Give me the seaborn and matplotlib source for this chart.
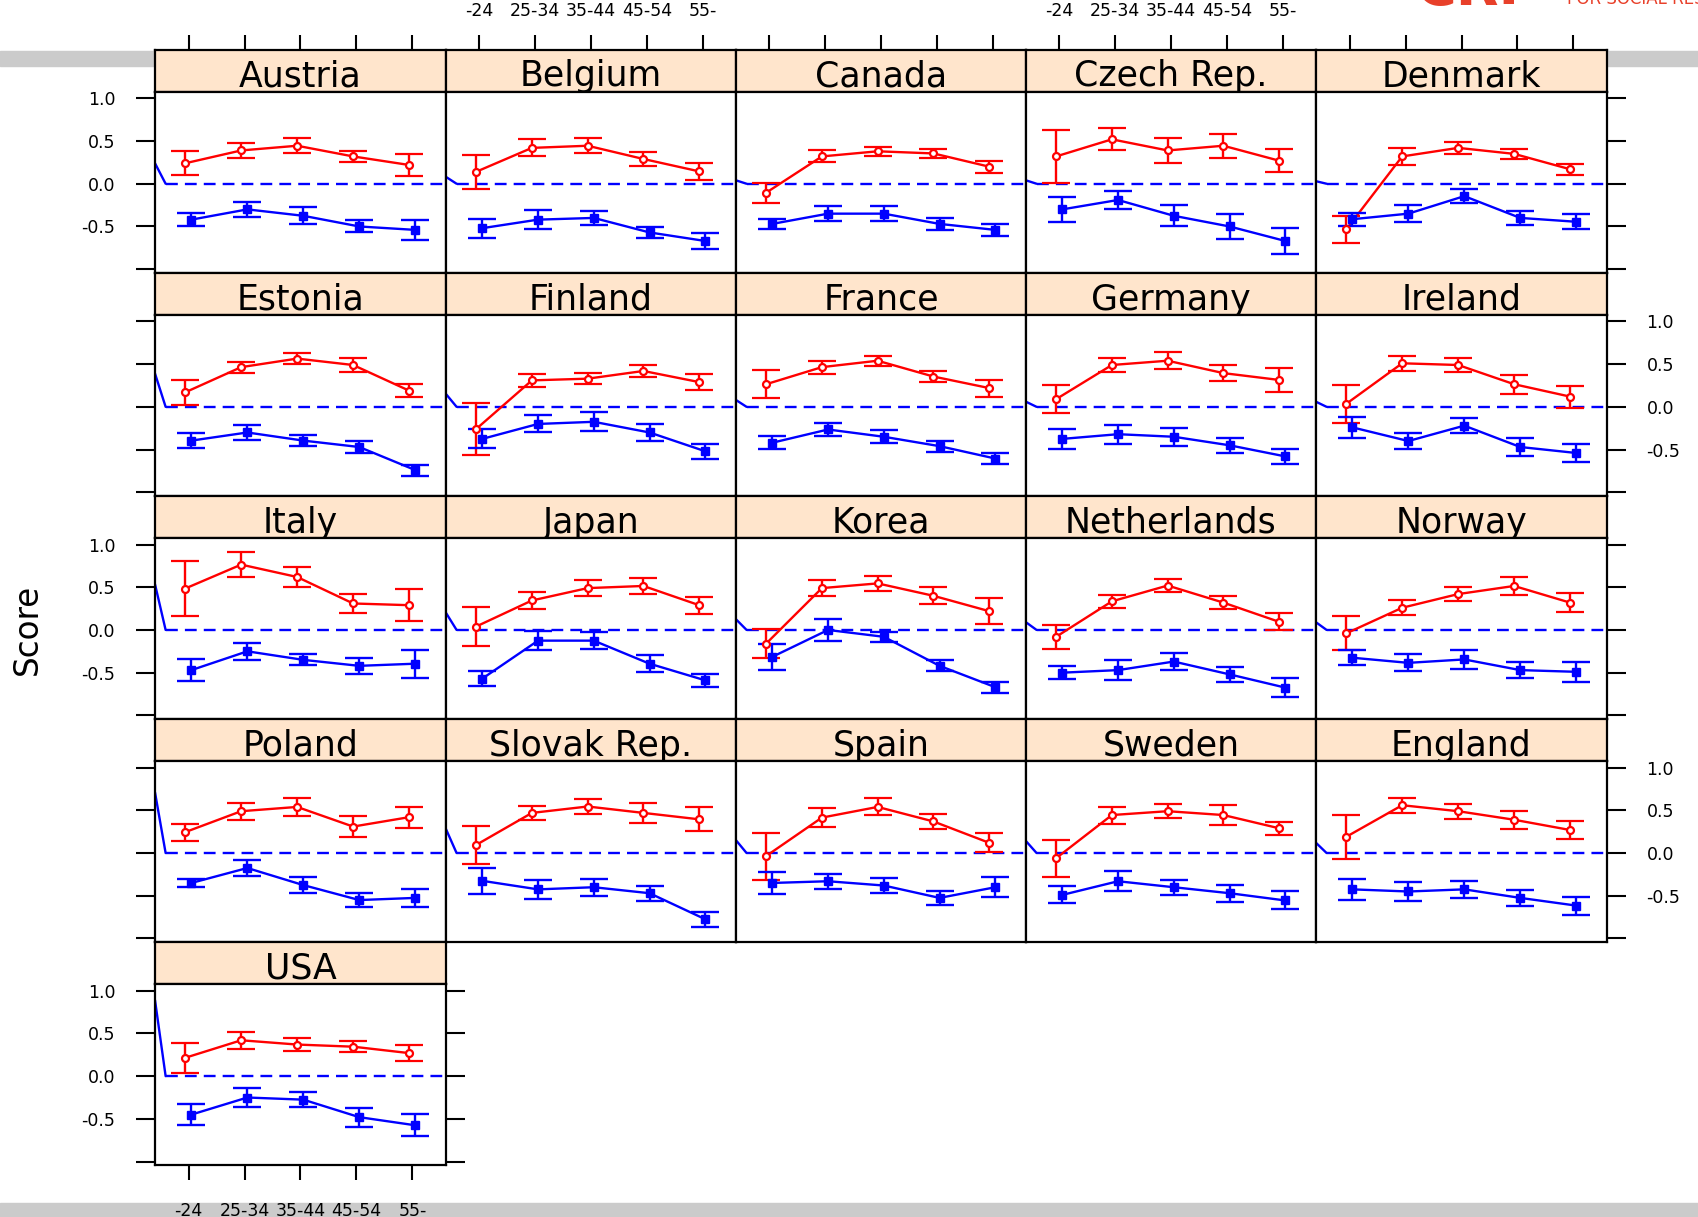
import matplotlib
matplotlib.use('Agg')
import matplotlib.pyplot as plt
import matplotlib.transforms as mtrans
import seaborn as sns
import numpy as np
import pandas as pd
from matplotlib.patches import Rectangle

countries = ['Austria', 'Belgium', 'Canada', 'Czech Rep.', 'Denmark',
             'Estonia', 'Finland', 'France', 'Germany', 'Ireland',
             'Italy', 'Japan', 'Korea', 'Netherlands', 'Norway',
             'Poland', 'Slovak Rep.', 'Spain', 'Sweden', 'England',
             'USA']
age_groups = ['-24', '25-34', '35-44', '45-54', '55-']

# red series (open circles): means and half-widths of the bars
red_mean = [
    [0.24, 0.39, 0.445, 0.32, 0.22],
    [0.14, 0.42, 0.445, 0.29, 0.145],
    [-0.105, 0.32, 0.38, 0.355, 0.20],
    [0.32, 0.52, 0.39, 0.445, 0.27],
    [-0.535, 0.32, 0.42, 0.35, 0.17],
    [0.17, 0.465, 0.565, 0.49, 0.19],
    [-0.26, 0.31, 0.33, 0.42, 0.29],
    [0.265, 0.465, 0.54, 0.355, 0.22],
    [0.09, 0.49, 0.54, 0.395, 0.315],
    [0.035, 0.51, 0.49, 0.265, 0.12],
    [0.485, 0.765, 0.62, 0.31, 0.29],
    [0.04, 0.345, 0.49, 0.515, 0.29],
    [-0.16, 0.49, 0.545, 0.40, 0.22],
    [-0.08, 0.335, 0.52, 0.32, 0.095],
    [-0.04, 0.26, 0.42, 0.515, 0.32],
    [0.245, 0.49, 0.54, 0.31, 0.42],
    [0.095, 0.47, 0.545, 0.47, 0.395],
    [-0.035, 0.415, 0.54, 0.37, 0.12],
    [-0.06, 0.445, 0.49, 0.445, 0.29],
    [0.19, 0.56, 0.49, 0.39, 0.27],
    [0.215, 0.42, 0.37, 0.345, 0.27],
]
red_err = [
    [0.14, 0.085, 0.09, 0.065, 0.13],
    [0.20, 0.10, 0.09, 0.085, 0.10],
    [0.115, 0.07, 0.05, 0.05, 0.07],
    [0.31, 0.13, 0.15, 0.14, 0.135],
    [0.16, 0.10, 0.07, 0.06, 0.065],
    [0.15, 0.065, 0.065, 0.08, 0.075],
    [0.30, 0.075, 0.065, 0.065, 0.09],
    [0.165, 0.075, 0.06, 0.065, 0.10],
    [0.165, 0.08, 0.10, 0.09, 0.14],
    [0.22, 0.09, 0.085, 0.11, 0.13],
    [0.32, 0.145, 0.115, 0.11, 0.185],
    [0.225, 0.10, 0.09, 0.09, 0.10],
    [0.17, 0.09, 0.09, 0.10, 0.15],
    [0.14, 0.075, 0.075, 0.075, 0.10],
    [0.20, 0.09, 0.085, 0.10, 0.11],
    [0.10, 0.10, 0.11, 0.125, 0.125],
    [0.225, 0.085, 0.085, 0.115, 0.14],
    [0.275, 0.11, 0.10, 0.09, 0.11],
    [0.215, 0.10, 0.085, 0.115, 0.075],
    [0.26, 0.09, 0.09, 0.105, 0.10],
    [0.175, 0.10, 0.08, 0.065, 0.09],
]

# blue series (filled squares)
blue_mean = [
    [-0.42, -0.30, -0.375, -0.50, -0.54],
    [-0.52, -0.42, -0.40, -0.57, -0.67],
    [-0.47, -0.35, -0.35, -0.47, -0.54],
    [-0.30, -0.19, -0.375, -0.50, -0.67],
    [-0.415, -0.35, -0.145, -0.40, -0.445],
    [-0.395, -0.30, -0.395, -0.47, -0.74],
    [-0.375, -0.20, -0.175, -0.30, -0.52],
    [-0.42, -0.265, -0.35, -0.46, -0.605],
    [-0.375, -0.32, -0.35, -0.45, -0.58],
    [-0.24, -0.40, -0.22, -0.47, -0.54],
    [-0.47, -0.25, -0.35, -0.42, -0.395],
    [-0.57, -0.125, -0.125, -0.395, -0.59],
    [-0.315, 0.0, -0.08, -0.42, -0.67],
    [-0.50, -0.47, -0.37, -0.52, -0.675],
    [-0.325, -0.385, -0.345, -0.47, -0.49],
    [-0.35, -0.175, -0.375, -0.55, -0.525],
    [-0.325, -0.425, -0.40, -0.47, -0.775],
    [-0.35, -0.33, -0.38, -0.525, -0.40],
    [-0.49, -0.33, -0.40, -0.47, -0.555],
    [-0.425, -0.45, -0.425, -0.525, -0.615],
    [-0.45, -0.25, -0.275, -0.48, -0.575],
]
blue_err = [
    [0.08, 0.09, 0.10, 0.07, 0.12],
    [0.11, 0.11, 0.085, 0.06, 0.09],
    [0.06, 0.09, 0.085, 0.07, 0.07],
    [0.15, 0.11, 0.125, 0.15, 0.15],
    [0.075, 0.10, 0.08, 0.085, 0.09],
    [0.09, 0.09, 0.065, 0.07, 0.065],
    [0.11, 0.10, 0.11, 0.10, 0.09],
    [0.075, 0.075, 0.075, 0.065, 0.065],
    [0.12, 0.11, 0.105, 0.09, 0.09],
    [0.125, 0.09, 0.09, 0.10, 0.10],
    [0.125, 0.10, 0.065, 0.09, 0.165],
    [0.085, 0.115, 0.10, 0.10, 0.075],
    [0.15, 0.125, 0.06, 0.065, 0.065],
    [0.075, 0.115, 0.10, 0.085, 0.115],
    [0.09, 0.10, 0.115, 0.09, 0.115],
    [0.05, 0.09, 0.09, 0.085, 0.11],
    [0.15, 0.11, 0.10, 0.09, 0.09],
    [0.125, 0.085, 0.09, 0.08, 0.115],
    [0.10, 0.115, 0.09, 0.10, 0.105],
    [0.125, 0.11, 0.10, 0.09, 0.105],
    [0.125, 0.115, 0.09, 0.11, 0.13],
]

# height where the stray blue reference line enters each panel on the left
slash_top = [0.24, 0.08, 0.04, 0.04, 0.03,
             0.39, 0.15, 0.08, 0.06, 0.06,
             0.535, 0.20, 0.125, 0.09, 0.09,
             0.71, 0.28, 0.15, 0.14, 0.12,
             0.89]

W, H = 1699, 1217
sns.set_style('white')
plt.rcParams['font.family'] = ['DejaVu Sans']
plt.rcParams.update({'axes.edgecolor': 'black', 'xtick.color': 'black',
                     'ytick.color': 'black', 'text.color': 'black'})

fig = plt.figure(figsize=(W / 100, H / 100), dpi=100)


def box(x0, y0, x1, y1):
    # pixel box measured from the top-left -> figure fraction rect
    return [x0 / W, 1 - y1 / H, (x1 - x0) / W, (y1 - y0) / H]


# grey bands of the slide behind the chart
fig.add_artist(Rectangle((0, 1 - 66 / H), 1, 15.5 / H, transform=fig.transFigure,
                         color='#cbcbcb', zorder=-5))
fig.add_artist(Rectangle((0, 0), 1, 14 / H, transform=fig.transFigure,
                         color='#cbcbcb', zorder=-5))

col_x = [155, 446, 736, 1026, 1316, 1607]
row_y = [49.5, 272.6, 495.7, 718.8, 941.9, 1165]
strip_h = 42
XLIM = (-0.6, 4.6)
YLIM = (-1.04, 1.08)
yticks = [-1, -0.5, 0, 0.5, 1]
ylabels = ['', '-0.5', '0.0', '0.5', '1.0']
ncol = 5
xs = np.arange(len(age_groups))
lw = 1.7
ylab_shift = mtrans.ScaledTranslation(0, -3 / 100, fig.dpi_scale_trans)

for k, name in enumerate(countries):
    r, c = divmod(k, ncol)
    x0, x1 = col_x[c], col_x[c + 1]
    y0, y1 = row_y[r], row_y[r + 1]
    last_in_row = (c == ncol - 1) or (k == len(countries) - 1)

    strip = fig.add_axes(box(x0, y0, x1, y0 + strip_h))
    strip.set_facecolor('#ffe5cc')
    strip.set_xlim(XLIM)
    strip.set_yticks([])
    strip.text(0.5, 0.12, name, transform=strip.transAxes, ha='center',
               va='baseline', fontsize=25)
    if r == 0:
        strip.set_xticks(xs)
        strip.set_xticklabels(age_groups)
        strip.tick_params(axis='x', top=True, bottom=False, labeltop=(c % 2 == 1),
                          labelbottom=False, direction='out', length=11, width=1.5,
                          pad=10, labelsize=12.5)
    else:
        strip.set_xticks([])

    ax = fig.add_axes(box(x0, y0 + strip_h, x1, y1))
    ax.set_xlim(XLIM)
    ax.set_ylim(YLIM)

    # zero reference
    ax.plot([XLIM[0], XLIM[0] + 0.19], [slash_top[k], 0], color='blue', lw=lw)
    ax.plot([XLIM[0] + 0.19, XLIM[1]], [0, 0], color='blue', lw=lw, ls=(0, (5, 3)))

    df = pd.DataFrame({'x': np.concatenate([xs - 0.06, xs + 0.05]),
                       'y': red_mean[k] + blue_mean[k],
                       'grp': ['red'] * 5 + ['blue'] * 5})
    sns.lineplot(data=df, x='x', y='y', hue='grp', palette={'red': 'red', 'blue': 'blue'},
                 lw=lw, errorbar=None, legend=False, ax=ax)
    ax.errorbar(xs - 0.06, red_mean[k], yerr=red_err[k], fmt='o', color='red',
                mfc='white', mec='red', ms=5, mew=1.6, capsize=10, elinewidth=lw,
                capthick=lw)
    ax.errorbar(xs + 0.05, blue_mean[k], yerr=blue_err[k], fmt='s', color='blue',
                ms=5.5, capsize=10, elinewidth=lw, capthick=lw)

    ax.set_xlabel('')
    ax.set_ylabel('')
    ax.set_xticks(xs)
    ax.set_xticklabels(age_groups)
    ax.set_yticks(yticks)
    ax.set_yticklabels(ylabels)
    for t in ax.get_yticklabels():
        t.set_transform(t.get_transform() + ylab_shift)
    bottom = k == len(countries) - 1
    ax.tick_params(axis='x', bottom=bottom, top=False, labelbottom=bottom,
                   labeltop=False, direction='out', length=11, width=1.5,
                   pad=15.5, labelsize=12.5)
    ax.tick_params(axis='y', left=(c == 0), right=last_in_row,
                   labelleft=(c == 0 and r % 2 == 0),
                   labelright=(last_in_row and r % 2 == 1),
                   direction='out', length=14, width=1.5, pad=14.5, labelsize=12.5)

    for a in (ax, strip):
        for s in a.spines.values():
            s.set_visible(True)
            s.set_color('black')
            s.set_linewidth(1.6)

fig.text(27 / W, 1 - 629 / H, 'Score', rotation=90, ha='center', va='center', fontsize=23.5)

# cut-off logo at the top right of the slide
fig.text(1415 / W, 1 - 4 / H, 'CRI', color='#e8402a', fontsize=40, fontweight='bold',
         ha='left', va='baseline')
fig.text(1567 / W, 1 - 4 / H, 'FOR SOCIAL RESEARCH', color='#e8402a', fontsize=12,
         ha='left', va='baseline')

fig.savefig('out.png', dpi=100)
